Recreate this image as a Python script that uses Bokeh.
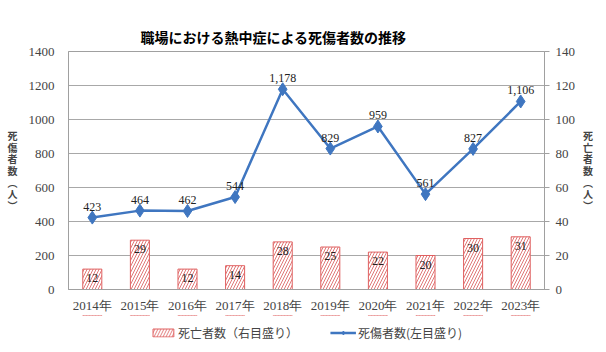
from bokeh.plotting import figure
from bokeh.layouts import column
from bokeh.models import (ColumnDataSource, FactorRange, Range1d, LinearAxis, LabelSet,
                          Legend, LegendItem, Title, FixedTicker)
from bokeh.embed import file_html
from bokeh.resources import INLINE

years = ["2014年", "2015年", "2016年", "2017年", "2018年", "2019年", "2020年", "2021年", "2022年", "2023年"]
casualties = [423, 464, 462, 544, 1178, 829, 959, 561, 827, 1106]
deaths = [12, 29, 12, 14, 28, 25, 22, 20, 30, 31]
left_ticks = [0, 200, 400, 600, 800, 1000, 1200, 1400]
right_ticks = [0, 20, 40, 60, 80, 100, 120, 140]
left_title = "死傷者数︵人︶"
right_title = "死亡者数︵人︶"
legend_bar = "死亡者数（右目盛り）"
legend_line = "死傷者数(左目盛り)"

SERIF = "Liberation Serif"
SANS = "Noto Sans CJK JP"
BAR_STYLE = dict(fill_color="white", line_color="#e06060", line_width=1,
                 hatch_pattern="/", hatch_color="#e07878", hatch_scale=6, hatch_weight=1)
BLUE = "#3f76c0"

src = ColumnDataSource(dict(
    x=years, cas=casualties, dea=deaths,
    cas_lbl=[f"{v:,}" for v in casualties],
    dea_lbl=[str(v) for v in deaths],
))

p = figure(frame_width=476, frame_height=238, x_range=FactorRange(*years), y_range=Range1d(0, 1400),
           output_backend="svg", toolbar_location=None,
           min_border_left=68, min_border_right=62, min_border_top=51, min_border_bottom=25)
p.extra_y_ranges = {"right": Range1d(0, 140)}

t = Title(text="職場における熱中症による死傷者数の推移", align="left", offset=72,
          text_font=SANS, text_font_size="14px", text_font_style="bold", text_color="#000000")
p.add_layout(t, "above")

p.vbar(x="x", top="dea", width=0.4, source=src, y_range_name="right", **BAR_STYLE)
p.line(x="x", y="cas", source=src, line_color=BLUE, line_width=2.5)
p.scatter(x="x", y="cas", source=src, marker="diamond", size=13, fill_color=BLUE, line_color=BLUE)

p.add_layout(LabelSet(x="x", y="cas", text="cas_lbl", source=src, text_align="center",
                      text_baseline="bottom", y_offset=7, text_font=SERIF,
                      text_font_size="12px", text_color="#222222"))
p.add_layout(LabelSet(x="x", y="dea", text="dea_lbl", source=src, text_align="center",
                      text_baseline="top", y_offset=-5, y_range_name="right", text_font=SERIF,
                      text_font_size="12px", text_color="#222222"))

# left axis
ya = p.yaxis[0]
ya.ticker = FixedTicker(ticks=left_ticks)
ya.axis_label = "\n".join(left_title)
ya.axis_label_orientation = "horizontal"
ya.axis_label_text_font = SANS
ya.axis_label_text_font_style = "bold"
ya.axis_label_text_font_size = "10px"
ya.axis_label_text_line_height = 0.78
ya.axis_label_standoff = 8
ya.major_label_text_font = SERIF
ya.major_label_text_font_size = "13px"
ya.major_label_standoff = 14
ya.major_tick_in = 0
ya.major_tick_out = 0
ya.major_tick_line_color = None
ya.minor_tick_line_color = None
ya.axis_line_color = "#a0a0a0"

# right axis
ra = LinearAxis(y_range_name="right", ticker=FixedTicker(ticks=right_ticks))
ra.axis_label = "\n".join(right_title)
ra.axis_label_orientation = "horizontal"
ra.axis_label_text_font = SANS
ra.axis_label_text_font_style = "bold"
ra.axis_label_text_font_size = "10px"
ra.axis_label_text_line_height = 0.78
ra.axis_label_standoff = 5
ra.major_label_text_font = SERIF
ra.major_label_text_font_size = "13px"
ra.major_label_standoff = 6
ra.major_tick_in = 0
ra.major_tick_out = 5
ra.major_tick_line_color = "#a0a0a0"
ra.minor_tick_line_color = None
ra.axis_line_color = "#a0a0a0"
p.add_layout(ra, "right")

xa = p.xaxis[0]
xa.major_label_text_font = SERIF
xa.major_label_text_font_size = "13px"
xa.major_label_standoff = 8
xa.major_tick_in = 0
xa.major_tick_out = 0
xa.major_tick_line_color = None
xa.axis_line_color = "#a0a0a0"

p.xgrid.grid_line_color = None
p.ygrid.grid_line_color = "#a8a8a8"
p.ygrid.ticker = FixedTicker(ticks=left_ticks)
p.outline_line_color = "#a0a0a0"
p.background_fill_color = "white"
p.border_fill_color = "white"

# legend strip below the chart (series re-drawn out of its visible range, only keys show)
lg = figure(width=606, height=34, x_range=FactorRange(*years), y_range=Range1d(-2, -1),
            output_backend="svg", toolbar_location=None, min_border=0)
lg.axis.visible = False
lg.grid.grid_line_color = None
lg.outline_line_color = None
r_bar = lg.vbar(x="x", top="dea", width=0.4, source=src, **BAR_STYLE)
r_line = lg.line(x="x", y="cas", source=src, line_color=BLUE, line_width=2.5)
r_pt = lg.scatter(x="x", y="cas", source=src, marker="diamond", size=9,
                  fill_color=BLUE, line_color=BLUE)
legend = Legend(items=[LegendItem(label=legend_bar, renderers=[r_bar]),
                       LegendItem(label=legend_line, renderers=[r_line, r_pt])],
                orientation="horizontal", location="center",
                label_text_font=SANS, label_text_font_size="12px",
                glyph_width=26, glyph_height=10, label_height=14, spacing=32, padding=2, margin=0,
                border_line_color=None, background_fill_alpha=0, label_standoff=2)
lg.add_layout(legend, "center")

open("out.html", "w").write(file_html(column(p, lg, spacing=0), INLINE))
